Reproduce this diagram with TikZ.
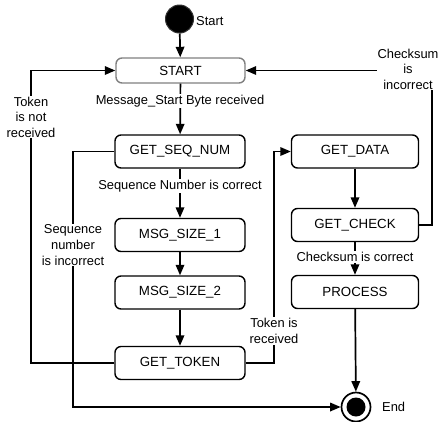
\documentclass[tikz,border=0pt]{standalone}
\usepackage{fontspec}
\setmainfont{Liberation Sans}
\usetikzlibrary{arrows.meta}
\begin{document}
\begin{tikzpicture}[x=1pt,y=-1pt,
  box/.style={draw, line width=1.4pt, rounded corners=6pt, minimum width=130pt, minimum height=33pt, inner sep=0pt, font=\fontsize{13.3}{15}\selectfont},
  lbl/.style={fill=white, inner sep=1pt, align=center, font=\fontsize{12.9}{15.6}\selectfont},
  plain/.style={inner sep=0pt, font=\fontsize{12.9}{15}\selectfont},
  arr/.style={line width=1.7pt, -{Triangle[width=8.5pt,length=10.5pt]}}]
\useasboundingbox (0,0) rectangle (438,421);
% initial and final states
\node (init) [circle, fill=black, draw=black!80, line width=1pt, minimum size=28pt, inner sep=0pt] at (179.5,19) {};
\node (initlbl) [plain, anchor=west] at (196,21) {Start};
\node (fin) [circle, draw=black, line width=1.7pt, minimum size=29pt, inner sep=0pt] at (356,407) {};
\node (fincore) [circle, fill=black, minimum size=19pt, inner sep=0pt] at (356,407) {};
\node (finlbl) [plain, anchor=west] at (382,407) {End};
% states
\node (sStart) [box, draw=black!50, minimum width=129pt, minimum height=25pt] at (180.5,70.5) {START};
\node (seq) [box] at (180,151.5) {GET\_SEQ\_NUM};
\node (m1) [box] at (180,235) {MSG\_SIZE\_1};
\node (m2) [box] at (180,292.5) {MSG\_SIZE\_2};
\node (tok) [box] at (180,363) {GET\_TOKEN};
\node (data) [box, minimum width=127pt] at (355,151.5) {GET\_DATA};
\node (check) [box, minimum width=127pt] at (355,225) {GET\_CHECK};
\node (proc) [box, minimum width=127pt] at (355,292) {PROCESS};
% connectors
\draw[arr] (init) -- (sStart);
\draw[arr] (sStart) -- (seq);
\draw[arr] (seq) -- (m1);
\draw[arr] (m1) -- (m2);
\draw[arr] (m2) -- (tok);
\draw[arr] (tok.west) -- (31,363) -- (31,70.5) -- (sStart.west);
\draw[arr] (seq.west) -- (73,151.5) -- (73,407) -- (fin.west);
\draw[arr] (tok.east) -- (274,363) -- (274,151.5) -- (data.west);
\draw[arr] (data) -- (check);
\draw[arr] (check.east) -- (432,225) -- (432,70.5) -- (sStart.east);
\draw[arr] (check) -- (proc);
\draw[arr] (proc) -- (fin);
% edge labels
\node (l1) [lbl] at (180,101) {Message\_Start Byte received};
\node (l2) [lbl] at (180,186) {Sequence Number is correct};
\node (l3) [lbl] at (31,117) {Token\\is not\\received};
\node (l4) [lbl] at (73,245) {Sequence\\number\\is incorrect};
\node (l5) [lbl] at (274,331) {Token is\\received};
\node (l6) [lbl] at (408,69) {Checksum\\is\\incorrect};
\node (l7) [lbl] at (355,257) {Checksum is correct};
\end{tikzpicture}
\end{document}
